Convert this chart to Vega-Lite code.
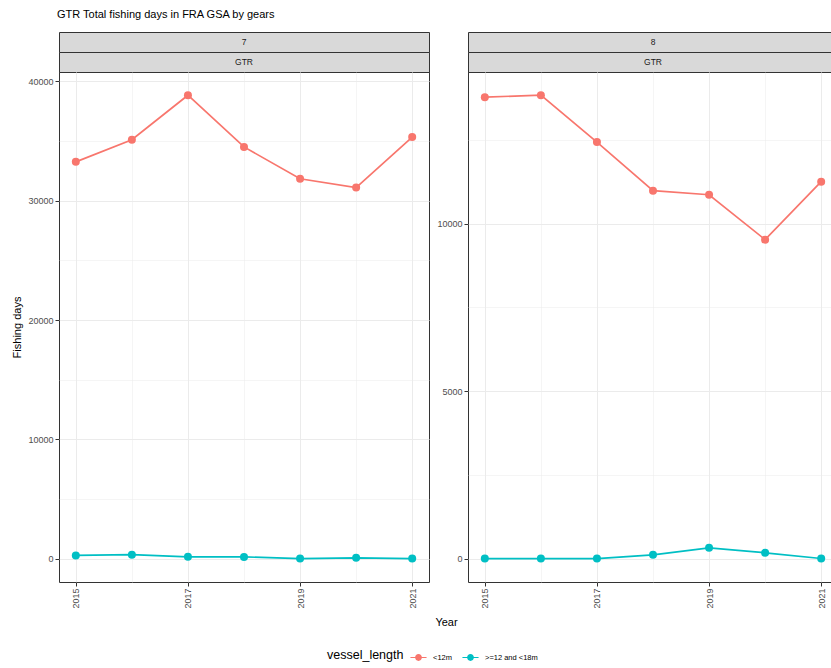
{
  "$schema": "https://vega.github.io/schema/vega-lite/v6.json",
  "padding": {"left": 11, "top": 8, "right": 0, "bottom": 0},
  "background": "white",
  "title": {"text": "GTR Total fishing days in FRA GSA by gears", "anchor": "start", "fontSize": 11, "fontWeight": "normal", "color": "#000000", "offset": 12, "frame": "group", "dx": -2},
  "datasets": {
    "fishing": [
      {"gsa": "7", "year": 2015, "vessel_length": "<12m", "days": 33250},
      {"gsa": "7", "year": 2016, "vessel_length": "<12m", "days": 35100},
      {"gsa": "7", "year": 2017, "vessel_length": "<12m", "days": 38830},
      {"gsa": "7", "year": 2018, "vessel_length": "<12m", "days": 34500},
      {"gsa": "7", "year": 2019, "vessel_length": "<12m", "days": 31830},
      {"gsa": "7", "year": 2020, "vessel_length": "<12m", "days": 31100},
      {"gsa": "7", "year": 2021, "vessel_length": "<12m", "days": 35330},
      {"gsa": "7", "year": 2015, "vessel_length": ">=12 and <18m", "days": 280},
      {"gsa": "7", "year": 2016, "vessel_length": ">=12 and <18m", "days": 350},
      {"gsa": "7", "year": 2017, "vessel_length": ">=12 and <18m", "days": 170},
      {"gsa": "7", "year": 2018, "vessel_length": ">=12 and <18m", "days": 160},
      {"gsa": "7", "year": 2019, "vessel_length": ">=12 and <18m", "days": 20},
      {"gsa": "7", "year": 2020, "vessel_length": ">=12 and <18m", "days": 80},
      {"gsa": "7", "year": 2021, "vessel_length": ">=12 and <18m", "days": 20},
      {"gsa": "8", "year": 2015, "vessel_length": "<12m", "days": 13770},
      {"gsa": "8", "year": 2016, "vessel_length": "<12m", "days": 13830},
      {"gsa": "8", "year": 2017, "vessel_length": "<12m", "days": 12430},
      {"gsa": "8", "year": 2018, "vessel_length": "<12m", "days": 10980},
      {"gsa": "8", "year": 2019, "vessel_length": "<12m", "days": 10860},
      {"gsa": "8", "year": 2020, "vessel_length": "<12m", "days": 9520},
      {"gsa": "8", "year": 2021, "vessel_length": "<12m", "days": 11250},
      {"gsa": "8", "year": 2015, "vessel_length": ">=12 and <18m", "days": 10},
      {"gsa": "8", "year": 2016, "vessel_length": ">=12 and <18m", "days": 10},
      {"gsa": "8", "year": 2017, "vessel_length": ">=12 and <18m", "days": 10},
      {"gsa": "8", "year": 2018, "vessel_length": ">=12 and <18m", "days": 120},
      {"gsa": "8", "year": 2019, "vessel_length": ">=12 and <18m", "days": 330},
      {"gsa": "8", "year": 2020, "vessel_length": ">=12 and <18m", "days": 180},
      {"gsa": "8", "year": 2021, "vessel_length": ">=12 and <18m", "days": 10}
    ],
    "panels": [
      {"gsa": "7", "gear": "GTR"},
      {"gsa": "8", "gear": "GTR"}
    ]
  },
  "columns": 2,
  "spacing": {"row": 0, "column": 39},
  "bounds": "flush",
  "concat": [
    {
      "width": 370, "height": 20,
      "data": {"name": "panels"},
      "transform": [{"filter": "datum.gsa == '7'"}],
      "view": {"fill": "#d9d9d9", "stroke": "#333333"},
      "mark": {"type": "text", "fontSize": 8.5, "color": "#1a1a1a", "align": "center", "baseline": "middle"},
      "encoding": {"text": {"field": "gsa", "type": "nominal"}}
    },
    {
      "width": 370, "height": 20,
      "data": {"name": "panels"},
      "transform": [{"filter": "datum.gsa == '8'"}],
      "view": {"fill": "#d9d9d9", "stroke": "#333333"},
      "mark": {"type": "text", "fontSize": 8.5, "color": "#1a1a1a", "align": "center", "baseline": "middle"},
      "encoding": {"text": {"field": "gsa", "type": "nominal"}}
    },
    {
      "width": 370, "height": 20,
      "data": {"name": "panels"},
      "transform": [{"filter": "datum.gsa == '7'"}],
      "view": {"fill": "#d9d9d9", "stroke": "#333333"},
      "mark": {"type": "text", "fontSize": 8.5, "color": "#1a1a1a", "align": "center", "baseline": "middle"},
      "encoding": {"text": {"field": "gear", "type": "nominal"}}
    },
    {
      "width": 370, "height": 20,
      "data": {"name": "panels"},
      "transform": [{"filter": "datum.gsa == '8'"}],
      "view": {"fill": "#d9d9d9", "stroke": "#333333"},
      "mark": {"type": "text", "fontSize": 8.5, "color": "#1a1a1a", "align": "center", "baseline": "middle"},
      "encoding": {"text": {"field": "gear", "type": "nominal"}}
    },
    {
      "width": 370, "height": 510,
      "data": {"name": "fishing"},
      "transform": [{"filter": "datum.gsa == '7'"}],
      "encoding": {
        "x": {"field": "year", "type": "quantitative",
          "scale": {"domain": [2014.7, 2021.3], "nice": false, "zero": false},
          "axis": {"title": null, "values": [2015, 2016, 2017, 2018, 2019, 2020, 2021], "format": "d",
            "labelExpr": "datum.value % 2 == 1 ? datum.label : ''",
            "tickOpacity": {"condition": {"test": "datum.value % 2 == 1", "value": 1}, "value": 0},
            "gridWidth": {"condition": {"test": "datum.value % 2 == 1", "value": 1}, "value": 0.5}}},
        "y": {"field": "days", "type": "quantitative",
          "scale": {"domain": [-1942, 40775], "nice": false, "zero": false},
          "axis": {"title": "Fishing days", "titlePadding": 5, "values": [0, 5000, 10000, 15000, 20000, 25000, 30000, 35000, 40000], "format": "d",
            "labelExpr": "datum.value % 10000 == 0 ? datum.label : ''",
            "tickOpacity": {"condition": {"test": "datum.value % 10000 == 0", "value": 1}, "value": 0},
            "gridWidth": {"condition": {"test": "datum.value % 10000 == 0", "value": 1}, "value": 0.5}}},
        "color": {"field": "vessel_length", "type": "nominal",
          "scale": {"domain": ["<12m", ">=12 and <18m"], "range": ["#F8766D", "#00BFC4"]},
          "legend": {"title": "vessel_length", "orient": "none", "direction": "horizontal", "titleOrient": "left", "legendX": 268, "legendY": 617,
            "symbolType": "M-1,-0.07H-0.4V0.07H-1Z M0.4,-0.07H1V0.07H0.4Z M0.42,0A0.42,0.42 0 1,1 -0.42,0A0.42,0.42 0 1,1 0.42,0Z",
            "symbolSize": 260, "symbolOpacity": 1, "symbolStrokeWidth": 0, "labelFontSize": 7.5, "titleFontSize": 12.5, "titleFontWeight": "normal", "titleColor": "#000000", "labelColor": "#000000", "columnPadding": 10, "titlePadding": 6, "labelOffset": 6}}
      },
      "layer": [
        {"mark": {"type": "line", "strokeWidth": 1.7}},
        {"mark": {"type": "point", "filled": true, "size": 64, "opacity": 1}}
      ]
    },
    {
      "width": 370, "height": 510,
      "data": {"name": "fishing"},
      "transform": [{"filter": "datum.gsa == '8'"}],
      "encoding": {
        "x": {"field": "year", "type": "quantitative",
          "scale": {"domain": [2014.7, 2021.3], "nice": false, "zero": false},
          "axis": {"title": "Year", "titleX": -22, "values": [2015, 2016, 2017, 2018, 2019, 2020, 2021], "format": "d",
            "labelExpr": "datum.value % 2 == 1 ? datum.label : ''",
            "tickOpacity": {"condition": {"test": "datum.value % 2 == 1", "value": 1}, "value": 0},
            "gridWidth": {"condition": {"test": "datum.value % 2 == 1", "value": 1}, "value": 0.5}}},
        "y": {"field": "days", "type": "quantitative",
          "scale": {"domain": [-690, 14520], "nice": false, "zero": false},
          "axis": {"title": null, "values": [0, 2500, 5000, 7500, 10000, 12500], "format": "d",
            "labelExpr": "datum.value % 5000 == 0 ? datum.label : ''",
            "tickOpacity": {"condition": {"test": "datum.value % 5000 == 0", "value": 1}, "value": 0},
            "gridWidth": {"condition": {"test": "datum.value % 5000 == 0", "value": 1}, "value": 0.5}}},
        "color": {"field": "vessel_length", "type": "nominal",
          "scale": {"domain": ["<12m", ">=12 and <18m"], "range": ["#F8766D", "#00BFC4"]},
          "legend": {"title": "vessel_length", "orient": "none", "direction": "horizontal", "titleOrient": "left", "legendX": 268, "legendY": 617,
            "symbolType": "M-1,-0.07H-0.4V0.07H-1Z M0.4,-0.07H1V0.07H0.4Z M0.42,0A0.42,0.42 0 1,1 -0.42,0A0.42,0.42 0 1,1 0.42,0Z",
            "symbolSize": 260, "symbolOpacity": 1, "symbolStrokeWidth": 0, "labelFontSize": 7.5, "titleFontSize": 12.5, "titleFontWeight": "normal", "titleColor": "#000000", "labelColor": "#000000", "columnPadding": 10, "titlePadding": 6, "labelOffset": 6}}
      },
      "layer": [
        {"mark": {"type": "line", "strokeWidth": 1.7}},
        {"mark": {"type": "point", "filled": true, "size": 64, "opacity": 1}}
      ]
    }
  ],
  "resolve": {"scale": {"x": "independent", "y": "independent", "color": "shared"}, "legend": {"color": "shared"}},
  "config": {
    "font": "Liberation Sans",
    "view": {"stroke": "#333333", "strokeWidth": 1},
    "axis": {
      "domain": false,
      "gridColor": "#ebebeb",
      "tickColor": "#333333",
      "tickSize": 4,
      "labelFontSize": 9,
      "labelColor": "#4d4d4d",
      "labelPadding": 2,
      "titleFontSize": 11,
      "titleFontWeight": "normal",
      "titleColor": "#000000"
    },
    "axisX": {"labelAngle": 270, "labelAlign": "right", "labelBaseline": "middle", "titlePadding": 8},
    "axisY": {"titlePadding": 8}
  }
}
